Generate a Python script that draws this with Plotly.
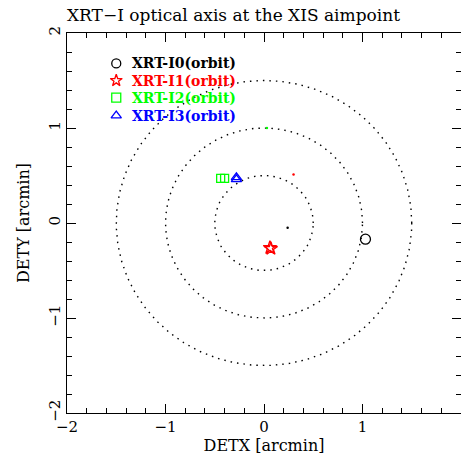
import numpy as np
import plotly.graph_objects as go

# ---- data ----
series_names = ["XRT-I0(orbit)", "XRT-I1(orbit)", "XRT-I2(orbit)", "XRT-I3(orbit)"]
series_colors = ["black", "red", "#00ff00", "blue"]
series_symbols = ["circle-open", "star-open", "square-open", "triangle-up-open"]
series_x = [[1.03], [0.06, 0.07], [-0.44, -0.40], [-0.28, -0.28]]
series_y = [[-0.17], [-0.26, -0.27], [0.47, 0.47], [0.48, 0.46]]
series_sizes = [10, 10, 8, 9]

circle_radii = [0.5, 1.0, 1.5]

stray_x = [0.30, 0.24, 0.03]
stray_y = [0.51, -0.05, 1.00]
stray_colors = ["red", "black", "#00ff00"]

legend_x = -1.50
legend_text_x = -1.36
legend_y = [1.68, 1.50, 1.32, 1.13]

x_ticks = [-2, -1, 0, 1, 2]
y_ticks = [-2, -1, 0, 1, 2]
tick_text = ["\u22122", "\u22121", "0", "1", "2"]

FONT = "DejaVu Serif"

fig = go.Figure()

theta = np.linspace(0, 2 * np.pi, 361)
for r in circle_radii:
    fig.add_trace(go.Scatter(
        x=r * np.cos(theta), y=r * np.sin(theta), mode="lines",
        line=dict(color="black", width=1.4, dash="1.5px,5px"),
        hoverinfo="skip", showlegend=False))

for name, c, s, xs, ys, sz in zip(series_names, series_colors, series_symbols,
                                  series_x, series_y, series_sizes):
    fig.add_trace(go.Scatter(
        x=xs, y=ys, mode="markers", name=name,
        marker=dict(symbol=s, color=c, size=sz, line=dict(color=c, width=1.3)),
        showlegend=False))

fig.add_trace(go.Scatter(
    x=stray_x, y=stray_y, mode="markers",
    marker=dict(color=stray_colors, size=2.5), showlegend=False, hoverinfo="skip"))

# legend (manual)
for name, c, s, ly in zip(series_names, series_colors, series_symbols, legend_y):
    fig.add_trace(go.Scatter(
        x=[legend_x], y=[ly], mode="markers",
        marker=dict(symbol=s, color=c, size=9, line=dict(color=c, width=1.3)),
        showlegend=False, hoverinfo="skip"))
    fig.add_annotation(x=legend_text_x, y=ly, text="<b>" + name + "</b>",
                       showarrow=False, xanchor="left", yanchor="middle",
                       font=dict(family=FONT, size=14, color=c))

axis_common = dict(
    range=[-2, 2], showgrid=False, zeroline=False, showline=True,
    linecolor="black", linewidth=1.2, mirror="allticks",
    ticks="inside", ticklen=9, tickwidth=1, tickcolor="black",
    minor=dict(dtick=0.2, ticks="inside", ticklen=4.5, tickcolor="black", tickwidth=1),
    tickfont=dict(family=FONT, size=15, color="black"),
)

fig.update_xaxes(**axis_common, tickvals=x_ticks, ticktext=tick_text,
                 title=dict(text="DETX [arcmin]", font=dict(family=FONT, size=16, color="black"),
                            standoff=2))
fig.update_yaxes(**axis_common, tickvals=y_ticks, ticktext=tick_text,
                 tickangle=-90,
                 title=dict(text="DETY [arcmin]", font=dict(family=FONT, size=16, color="black"),
                            standoff=12))

fig.update_layout(
    width=461, height=459,
    margin=dict(l=67, r=0, t=33, b=46),
    plot_bgcolor="white", paper_bgcolor="white",
    title=dict(text="XRT\u2212I optical axis at the XIS aimpoint", xref="container", yref="container",
               x=67 / 461, y=1 - 15 / 459, xanchor="left", yanchor="middle",
               font=dict(family=FONT, size=17, color="black")),
)

fig.write_html("out.html")
